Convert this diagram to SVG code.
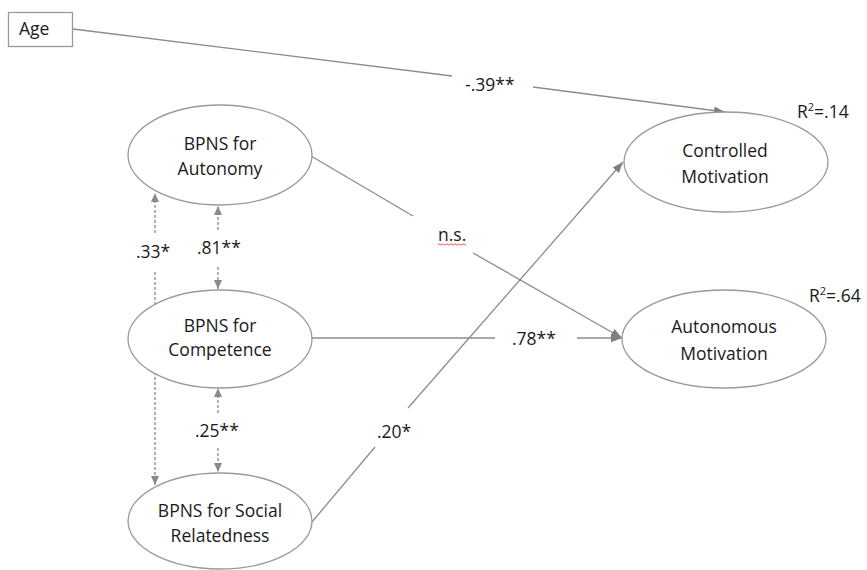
<svg xmlns="http://www.w3.org/2000/svg" width="867" height="570" viewBox="0 0 867 570">
<defs>
<marker id="ah" markerUnits="userSpaceOnUse" markerWidth="12" markerHeight="10" refX="11" refY="5" orient="auto">
<path d="M0,0.8 L11,5 L0,9.2 Z" fill="#7f7f7f"/>
</marker>
<marker id="ahd" markerUnits="userSpaceOnUse" markerWidth="10" markerHeight="10" refX="9" refY="4.5" orient="auto">
<path d="M0,0.5 L9,4.5 L0,8.5 Z" fill="#8a8a8a"/>
</marker>
</defs>
<style>
.t{font-family:"Open Sans","Liberation Sans",sans-serif;font-size:17.5px;fill:#1a1a1a}
.tc{text-anchor:middle}
.e{fill:#fff;stroke:#9a9a9a;stroke-width:1.3}
.l{fill:none;stroke:#8c8c8c;stroke-width:1.3}
.d{fill:none;stroke:#808080;stroke-width:1.2;stroke-dasharray:3 2}
</style>
<rect width="867" height="570" fill="#fff"/>
<g id="connectors">
<path class="l" d="M73,29 L452,76"/>
<path class="l" d="M533,87 L725,112" marker-end="url(#ah)"/>
<path class="l" d="M311,156 L413,216"/>
<path class="l" d="M473,253 L622,338" marker-end="url(#ah)"/>
<path class="l" d="M312,338 L495,338"/>
<path class="l" d="M577,338 L622,338" marker-end="url(#ah)"/>
<path class="l" d="M312,522 L375,447"/>
<path class="l" d="M408,408 L623,162" marker-end="url(#ah)"/>
<path class="d" d="M155,233 L155,193" marker-end="url(#ahd)"/>
<path class="d" d="M155,272 L155,485" marker-end="url(#ahd)"/>
<path class="d" d="M218,230 L218,206" marker-end="url(#ahd)"/>
<path class="d" d="M218,267 L218,289" marker-end="url(#ahd)"/>
<path class="d" d="M218,413 L218,388" marker-end="url(#ahd)"/>
<path class="d" d="M218,448 L218,472" marker-end="url(#ahd)"/>
<text class="t" x="465" y="91">-.39**</text>
<text class="t" x="438" y="241">n.s.</text>
<path d="M438,244.5 q1,-1.2 2,0 t2,0 t2,0 t2,0 t2,0 t2,0 t2,0 t2,0 t2,0 t2,0 t2,0 t2,0 t2,0 t2,0" fill="none" stroke="#e03030" stroke-width="0.8"/>
<text class="t" x="512" y="345">.78**</text>
<text class="t" x="377" y="438">.20*</text>
<text class="t" x="136" y="258">.33*</text>
<text class="t" x="197" y="254">.81**</text>
<text class="t" x="195" y="437">.25**</text>
</g>
<g id="age">
<rect x="8.5" y="12.5" width="64" height="34" fill="#fff" stroke="#9a9a9a" stroke-width="1.3"/>
<text class="t" x="19" y="35">Age</text>
</g>
<g id="autonomy">
<ellipse class="e" cx="220" cy="155" rx="92" ry="50"/>
<text class="t tc" x="220" y="150">BPNS for</text>
<text class="t tc" x="220" y="175">Autonomy</text>
</g>
<g id="competence">
<ellipse class="e" cx="220" cy="339" rx="92" ry="49"/>
<text class="t tc" x="220" y="332">BPNS for</text>
<text class="t tc" x="220" y="356">Competence</text>
</g>
<g id="relatedness">
<ellipse class="e" cx="220" cy="521" rx="92" ry="48"/>
<text class="t tc" x="220" y="517">BPNS for Social</text>
<text class="t tc" x="220" y="542">Relatedness</text>
</g>
<g id="controlled">
<ellipse class="e" cx="726" cy="162" rx="102" ry="50"/>
<text class="t tc" x="725" y="157">Controlled</text>
<text class="t tc" x="725" y="183">Motivation</text>
<text class="t" x="797" y="118">R<tspan font-size="11" dy="-7">2</tspan><tspan dy="7">=.14</tspan></text>
</g>
<g id="autonomous">
<ellipse class="e" cx="724" cy="339" rx="102" ry="49"/>
<text class="t tc" x="724" y="333">Autonomous</text>
<text class="t tc" x="724" y="360">Motivation</text>
<text class="t" x="809" y="302">R<tspan font-size="11" dy="-7">2</tspan><tspan dy="7">=.64</tspan></text>
</g>
</svg>
